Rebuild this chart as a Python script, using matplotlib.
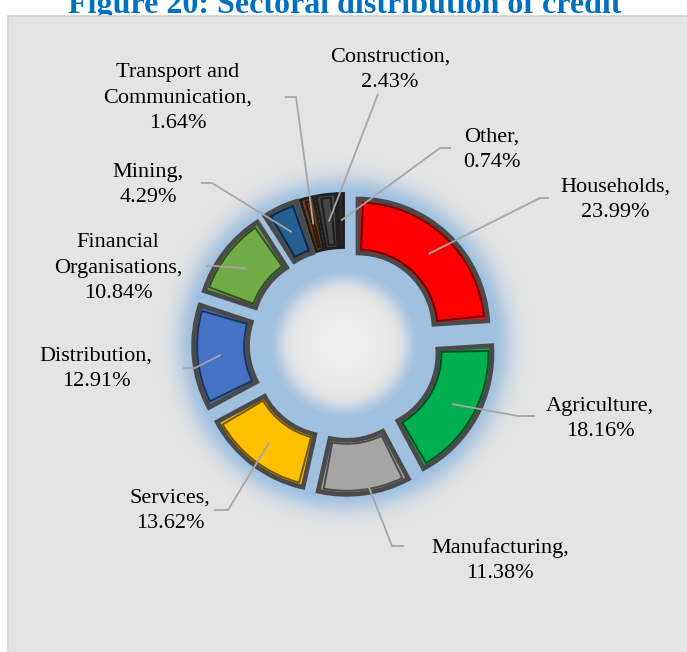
import numpy as np
import matplotlib.pyplot as plt
from matplotlib.patches import Rectangle, Wedge
from matplotlib.colors import to_rgb

# Sectoral distribution of credit (%)
sectors = ['Households', 'Agriculture', 'Manufacturing', 'Services', 'Distribution',
           'Financial\nOrganisations', 'Mining', 'Transport and\nCommunication',
           'Construction', 'Other']
shares = [23.99, 18.16, 11.38, 13.62, 12.91, 10.84, 4.29, 1.64, 2.43, 0.74]
colors = ['#ff0000', '#00b050', '#a5a5a5', '#ffc000', '#4472c4',
          '#70ad47', '#255e91', '#6b3a17', '#454545', '#2a2a2a']

W, H = 687, 652
fig = plt.figure(figsize=(W / 100, H / 100), dpi=100)
ax = fig.add_axes([0, 0, 1, 1])

serif = ['Liberation Serif', 'DejaVu Serif']

def py(p):
    # page y (from top) -> axes y
    return H - p

# title (partly hidden behind the panel)
ax.text(345, py(13), 'Figure 20: Sectoral distribution of credit', ha='center',
        va='baseline', fontsize=23, fontweight='bold', color='#0070c0',
        family=serif, zorder=0)

# grey panel
ax.add_patch(Rectangle((8, -5), W, py(16) + 5, facecolor='#e4e4e4',
                       edgecolor='#d2d2d2', lw=1.2, zorder=1))

cx, cy = 344, py(344)
R, ring = 130, 54

# soft blue glow behind the ring, lighter in the middle of the hole
gx, gy = np.meshgrid(np.arange(W) + 0.5, np.arange(H) + 0.5)
rho = np.hypot(gx - cx, gy - cy)
a = np.ones_like(rho)
a = np.where(rho > 150, np.exp(-((rho - 150) / 18.0) ** 2), a)
a = np.where(rho < 74, np.exp(-((74 - rho) / 13.0) ** 2), a)
glow = np.zeros((H, W, 4))
glow[..., 0], glow[..., 1], glow[..., 2] = 0.45, 0.66, 0.87
glow[..., 3] = 0.6 * a
centre = np.ones((H, W, 4))
centre[..., 3] = 0.45 * np.exp(-(rho / 45.0) ** 2)
ax.imshow(glow, extent=(0, W, 0, H), origin='lower', zorder=2,
          interpolation='bilinear')
ax.imshow(centre, extent=(0, W, 0, H), origin='lower', zorder=2,
          interpolation='bilinear')

wedges, _ = ax.pie(shares, colors=colors, startangle=90, counterclock=False,
                   center=(cx, cy), radius=R, explode=[20.5] * len(shares),
                   wedgeprops=dict(width=ring, edgecolor='#4a4a4a', linewidth=3.4),
                   frame=True)
for w in wedges:
    w.set_zorder(3)
    # thinner frame on the narrow slices so their fill still shows
    if w.theta2 - w.theta1 < 10:
        w.set_linewidth(2.0)
        w.set_edgecolor('#1e1e1e')

# darker inner rim for a bevelled look
for w, c in zip(wedges, colors):
    span = w.theta2 - w.theta1
    if span < 5:
        continue
    inset = np.degrees(4.0 / (w.r - w.width / 2))
    dark = tuple(v * 0.45 for v in to_rgb(c))
    ax.add_patch(Wedge(w.center, w.r - 3.5, w.theta1 + inset, w.theta2 - inset,
                       width=w.width - 7, facecolor='none', edgecolor=dark,
                       lw=1.4, zorder=4))

ax.set_xlim(0, W)
ax.set_ylim(0, H)
ax.set_aspect('equal')
ax.axis('off')

# label placement (page coordinates) and leader-line elbows
label_xy = [(615, 200), (600, 419), (500, 561), (170, 511), (96, 369),
            (118, 268), (148, 185), (178, 98), (390, 70), (492, 150)]
elbows = [((540, 198), (549, 198)), ((518, 416), (535, 416)),
          ((392, 546), (404, 546)), ((228, 510), (214, 510)),
          ((195, 368), (183, 368)), ((215, 266), (206, 266)),
          ((212, 183), (201, 183)), ((296, 97), (285, 97)),
          ((378, 94), (378, 94)), ((440, 148), (451, 148))]

for w, name, val, (lx, ly), (e1, e2) in zip(wedges, sectors, shares, label_xy, elbows):
    tm = np.radians((w.theta1 + w.theta2) / 2)
    rm = w.r - w.width / 2
    ax_, ay_ = w.center[0] + rm * np.cos(tm), w.center[1] + rm * np.sin(tm)
    ax.plot([ax_, e1[0], e2[0]], [ay_, py(e1[1]), py(e2[1])], color='#a6a6a6',
            lw=1.3, zorder=5, solid_capstyle='butt')
    ax.text(lx, py(ly), f'{name},\n{val:.2f}%', ha='center', va='center',
            fontsize=16, family=serif, color='black', linespacing=1.43, zorder=6)

fig.savefig('out.png', dpi=100)
